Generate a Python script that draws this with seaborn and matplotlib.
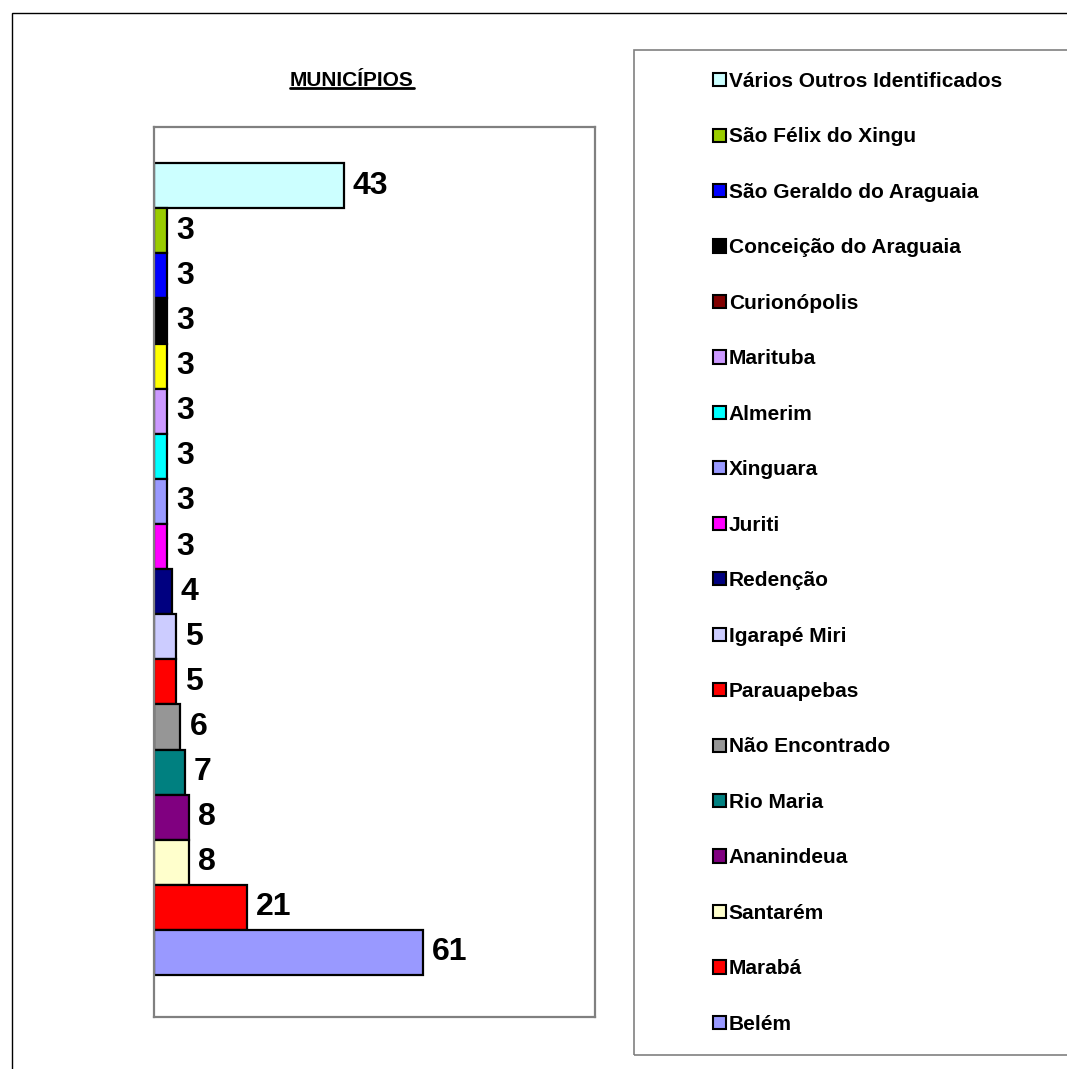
import matplotlib
matplotlib.use("Agg")
import matplotlib.pyplot as plt
from matplotlib.patches import Patch, Rectangle
from matplotlib.lines import Line2D
import seaborn as sns
import pandas as pd

# ---- data ----
categories = ["Vários Outros Identificados", "São Félix do Xingu", "São Geraldo do Araguaia",
              "Conceição do Araguaia", "Curionópolis", "Marituba", "Almerim", "Xinguara",
              "Juriti", "Redenção", "Igarapé Miri", "Parauapebas", "Não Encontrado",
              "Rio Maria", "Ananindeua", "Santarém", "Marabá", "Belém"]
values = [43, 3, 3, 3, 3, 3, 3, 3, 3, 4, 5, 5, 6, 7, 8, 8, 21, 61]
bar_colors = ["#CCFFFF", "#99CC00", "#0000FF", "#000000", "#FFFF00", "#CC99FF", "#00FFFF",
              "#9999FF", "#FF00FF", "#000080", "#CCCCFF", "#FF0000", "#969696", "#008080",
              "#800080", "#FFFFCC", "#FF0000", "#9999FF"]
legend_colors = ["#CCFFFF", "#99CC00", "#0000FF", "#000000", "#800000", "#CC99FF", "#00FFFF",
                 "#9999FF", "#FF00FF", "#000080", "#CCCCFF", "#FF0000", "#969696", "#008080",
                 "#800080", "#FFFFCC", "#FF0000", "#9999FF"]
title = "MUNICÍPIOS"

sns.set_style("white")
plt.rcParams["font.family"] = ["Liberation Sans", "DejaVu Sans"]
plt.rcParams["text.color"] = "black"

W, H = 1067, 1069
fig = plt.figure(figsize=(W / 100, H / 100), dpi=100)

def fx(px):
    return px / W

def fy(py):
    return 1 - py / H

ax = fig.add_axes([fx(154), fy(1017), fx(595) - fx(154), fy(127) - fy(1017)])

df = pd.DataFrame({"cat": categories, "val": values})
palette = dict(zip(categories, bar_colors))
sns.barplot(data=df, y="cat", x="val", hue="cat", palette=palette, legend=False,
            orient="h", width=1.0, edgecolor="black", linewidth=1.6, saturation=1,
            ax=ax)

for cont in ax.containers:
    ax.bar_label(cont, padding=6.5, fontsize=23, fontweight="bold", color="black")

ax.set_xlim(0, 100)
ax.set_ylim(18.43, -1.3)
ax.set_xlabel("")
ax.set_ylabel("")
ax.set_xticks([])
ax.set_yticks([])
for s in ax.spines.values():
    s.set_visible(True)
    s.set_color("#808080")
    s.set_linewidth(1.6)

# outer frame
fig.patches.append(Rectangle((fx(12), -0.1), 1.2, fy(13) + 0.1, transform=fig.transFigure,
                             fill=False, edgecolor="black", linewidth=1.0))
# legend frame
fig.patches.append(Rectangle((fx(634), fy(1055)), 1.2, fy(50) - fy(1055),
                             transform=fig.transFigure, fill=False,
                             edgecolor="#808080", linewidth=1.2))

handles = [Patch(facecolor=c, edgecolor="black", linewidth=1.5) for c in legend_colors]
leg = fig.legend(handles, categories, loc="upper left", bbox_to_anchor=(fx(713), fy(72)),
                 frameon=False, prop={"size": 15, "weight": "bold"},
                 handlelength=0.6, handleheight=0.6, handletextpad=0.15,
                 labelspacing=1.75, borderpad=0, borderaxespad=0)
for txt in leg.get_texts():
    txt.set_color("black")

# title with underline
t = fig.text(fx(352), fy(80), title, ha="center", va="center", fontsize=15,
             fontweight="bold", color="black")
fig.canvas.draw()
bb = t.get_window_extent(renderer=fig.canvas.get_renderer())
inv = fig.transFigure.inverted()
(x0, y0), (x1, y1) = inv.transform([[bb.x0, bb.y0], [bb.x1, bb.y1]])
fig.add_artist(Line2D([x0, x1], [y0 + 0.001, y0 + 0.001], transform=fig.transFigure,
                      color="black", linewidth=2.0))

fig.savefig("out.png", dpi=100)
